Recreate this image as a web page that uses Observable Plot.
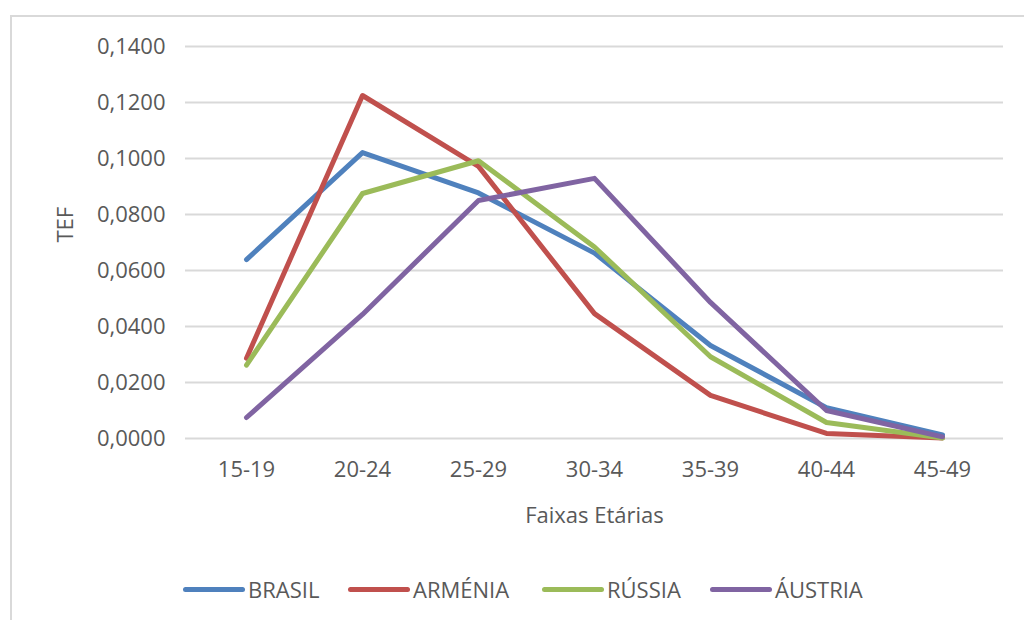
<!DOCTYPE html>
<html>
<head>
<meta charset="utf-8">
<script src="https://cdn.jsdelivr.net/npm/d3@7"></script>
<script src="https://cdn.jsdelivr.net/npm/@observablehq/plot@0.6"></script>
<style>
  html, body { margin: 0; padding: 0; background: #fff; }
  #wrap { position: relative; width: 1024px; height: 620px; overflow: hidden; font-family: "Open Sans", sans-serif; }
  #frame { position: absolute; left: 10px; top: 15px; width: 1100px; height: 700px; border: 2px solid #d9d9d9; box-sizing: border-box; }
  #chart { position: absolute; left: 0; top: 0; }
  #legend { position: absolute; left: 0; top: 573px; width: 1024px; height: 32px; font-size: 22px; color: #595959; }
  .item { position: absolute; top: 0; display: flex; align-items: center; white-space: nowrap; height: 32px; }
  .sw { display: inline-block; width: 62px; height: 5px; border-radius: 3px; margin-right: 3px; }
</style>
</head>
<body>
<div id="wrap">
  <div id="frame"></div>
  <div id="chart"></div>
  <div id="legend"></div>
</div>
<script>
const ageGroups = ["15-19", "20-24", "25-29", "30-34", "35-39", "40-44", "45-49"];
const seriesNames = ["BRASIL", "ARMÉNIA", "RÚSSIA", "ÁUSTRIA"];
const brasil  = [0.0639, 0.1021, 0.0877, 0.0662, 0.0332, 0.0110, 0.0013];
const armenia = [0.0287, 0.1225, 0.0972, 0.0446, 0.0154, 0.0018, 0.0002];
const russia  = [0.0262, 0.0875, 0.0992, 0.0684, 0.0292, 0.0057, 0.0002];
const austria = [0.0075, 0.0443, 0.0850, 0.0929, 0.0486, 0.0100, 0.0006];
const yTicks = [0, 0.02, 0.04, 0.06, 0.08, 0.10, 0.12, 0.14];
const colors = ["#4F81BD", "#C0504D", "#9BBB59", "#8064A2"];

const seriesValues = [brasil, armenia, russia, austria];
const data = [];
seriesNames.forEach((s, i) => ageGroups.forEach((a, j) => data.push({series: s, age: a, value: seriesValues[i][j]})));

const fmt = d3.formatLocale({decimal: ",", thousands: ".", grouping: [3], currency: ["", ""]}).format(".4f");

const chart = Plot.plot({
  width: 1024,
  height: 560,
  marginTop: 46,
  marginBottom: 122,
  marginLeft: 185,
  marginRight: 21,
  style: {fontFamily: "'Open Sans', sans-serif", fontSize: "22px", color: "#595959", background: "transparent"},
  x: {type: "point", domain: ageGroups, padding: 0.5},
  y: {domain: [0, 0.14]},
  color: {domain: seriesNames, range: colors},
  marks: [
    Plot.gridY(yTicks, {stroke: "#d9d9d9", strokeOpacity: 1, strokeWidth: 2}),
    Plot.axisY(yTicks, {tickSize: 0, tickPadding: 20, tickFormat: fmt, fill: "#595959", fontSize: 22, label: null}),
    Plot.text(["TEF"], {frameAnchor: "left", rotate: -90, dx: -120, fill: "#595959", fontSize: 22}),
    Plot.axisX({tickSize: 0, tickPadding: 23, fill: "#595959", fontSize: 22,
      label: "Faixas Etárias", labelAnchor: "center", labelOffset: 84}),
    Plot.lineY(data, {x: "age", y: "value", z: "series", stroke: "series", strokeWidth: 5,
      strokeLinecap: "round", strokeLinejoin: "round"})
  ]
});
document.getElementById("chart").appendChild(chart);

const legend = document.getElementById("legend");
const lefts = [183, 348, 542, 710];
seriesNames.forEach((s, i) => {
  const it = document.createElement("span");
  it.className = "item";
  it.style.left = lefts[i] + "px";
  const sw = document.createElement("span");
  sw.className = "sw";
  sw.style.background = colors[i];
  it.appendChild(sw);
  it.appendChild(document.createTextNode(s));
  legend.appendChild(it);
});
</script>
</body>
</html>
